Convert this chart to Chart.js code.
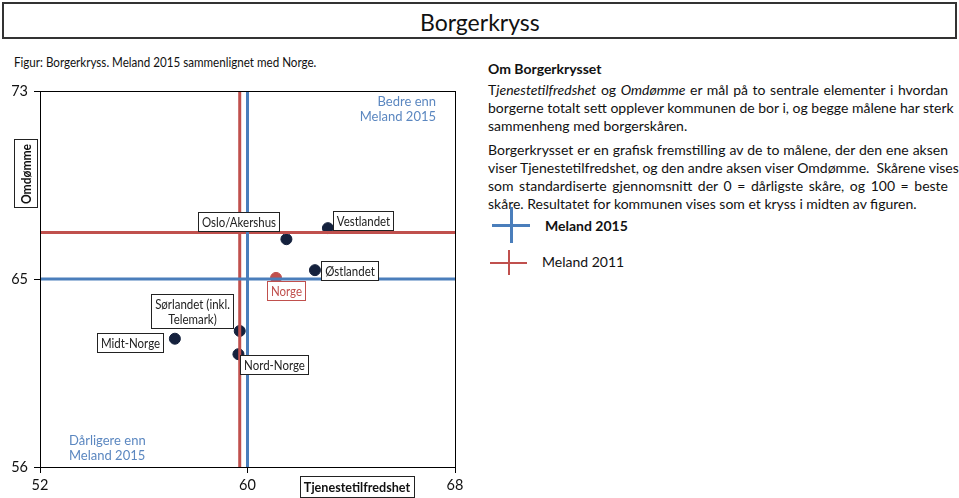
<!DOCTYPE html>
<html>
<head>
<meta charset="utf-8">
<script src="https://cdn.jsdelivr.net/npm/chart.js@4"></script>
<style>
  body { margin: 0; width: 959px; height: 498px; position: relative; background: #fff; font-family: Lato, 'Open Sans', sans-serif; color: #111; overflow: hidden; }
  #title-box { position: absolute; left: 2px; top: 2px; width: 951px; height: 33px; border: 2px solid #333; }
  #title { position: absolute; left: 420px; top: 7px; font-size: 23px; line-height: 30px; }
  #caption { position: absolute; left: 14px; top: 53px; font-size: 13.5px; line-height: 18px; transform: scaleX(0.86); transform-origin: 0 0; white-space: nowrap; }
  #chart-wrap { position: absolute; left: 0; top: 0; width: 480px; height: 498px; }
  #info { position: absolute; left: 488px; top: 60px; width: 460px; font-size: 14px; line-height: 18px; }
  #info .head { font-weight: bold; margin-bottom: 3px; }
  #info .line { text-align: justify; text-align-last: justify; white-space: nowrap; }
  #info .last { text-align: left; text-align-last: left; }
  #info .gap { height: 6px; }
  .bar { position: absolute; }
  .legend-text { position: absolute; font-size: 14px; line-height: 18px; }
</style>
</head>
<body>
<div id="title-box"></div>
<div id="title">Borgerkryss</div>
<div id="caption">Figur: Borgerkryss. Meland 2015 sammenlignet med Norge.</div>
<div id="chart-wrap"><canvas id="chart"></canvas></div>

<div id="info">
  <div class="head">Om Borgerkrysset</div>
  <div class="line">T<i>jenestetilfredshet</i> og <i>Omdømme</i> er mål på to sentrale elementer i hvordan</div>
  <div class="line">borgerne totalt sett opplever kommunen de bor i, og begge målene har sterk</div>
  <div class="line last">sammenheng med borgerskåren.</div>
  <div class="gap"></div>
  <div class="line">Borgerkrysset er en grafisk fremstilling av de to målene, der den ene aksen</div>
  <div class="line">viser Tjenestetilfredshet, og den andre aksen viser Omdømme.&nbsp; Skårene vises</div>
  <div class="line">som standardiserte gjennomsnitt der 0 = dårligste skåre, og 100 = beste</div>
  <div class="line last">skåre. Resultatet for kommunen vises som et kryss i midten av figuren.</div>
</div>

<div class="bar" style="left:492px; top:224px; width:38px; height:3px; background:#4a7ebb;"></div>
<div class="bar" style="left:510px; top:207px; width:3px; height:36px; background:#4a7ebb;"></div>
<div class="legend-text" style="left:545px; top:217px; font-weight:bold;">Meland 2015</div>
<div class="bar" style="left:490px; top:262px; width:37px; height:2px; background:#c0504d;"></div>
<div class="bar" style="left:508px; top:250px; width:2px; height:25px; background:#c0504d;"></div>
<div class="legend-text" style="left:542px; top:253px;">Meland 2011</div>

<script>
/* data */
const X_TICK_VALUES = [52, 60, 68];
const X_TICK_LABELS = ['52', '60', '68'];
const Y_TICK_VALUES = [56, 64.5, 73];
const Y_TICK_LABELS = ['56', '65', '73'];

const MELAND_2015 = [60, 64.5];   // [tjenestetilfredshet, omdømme]
const MELAND_2011 = [59.7, 66.6];

const REGION_NAMES = [['Oslo/Akershus'], ['Vestlandet'], ['Østlandet'], ['Sørlandet (inkl.', 'Telemark)'], ['Midt-Norge'], ['Nord-Norge']];
const REGION_TJENESTE = [61.5, 63.1, 62.6, 59.7, 57.2, 59.65];
const REGION_OMDOMME = [66.3, 66.8, 64.9, 62.15, 61.8, 61.1];

const NORGE_NAME = ['Norge'];
const NORGE_TJENESTE = [61.1];
const NORGE_OMDOMME = [64.55];

/* styling */
const BLUE = '#4a7ebb';
const RED = '#c0504d';
const DOT = '#14213d';
const CORNER = '#5b87c0';
const FONT = 'Lato, "Open Sans", sans-serif';
const NARROW = 0.82;
// [anchor, dx, dy] of each label box relative to its point
const REGION_LABEL_PLACEMENT = [['right', -7, -18], ['left', 5, -8], ['left', 6, 0], ['right', -7, -20], ['right', -12, 4], ['left', 2, 10]];
const NORGE_LABEL_PLACEMENT = ['center', 10, 13];

/* utilities */
const crossLines = (values, color) => {
  const [x, y] = values;
  const xMin = X_TICK_VALUES[0];
  const xMax = X_TICK_VALUES[X_TICK_VALUES.length - 1];
  const yMin = Y_TICK_VALUES[0];
  const yMax = Y_TICK_VALUES[Y_TICK_VALUES.length - 1];

  return [
    { type: 'line', data: [{ x: x, y: yMin }, { x: x, y: yMax }], borderColor: color, borderWidth: 3, pointRadius: 0 },
    { type: 'line', data: [{ x: xMin, y: y }, { x: xMax, y: y }], borderColor: color, borderWidth: 3, pointRadius: 0 },
  ];
};

const drawBox = (ctx, lines, px, py, placement, textColor, borderColor) => {
  const [anchor, dx, dy] = placement;
  ctx.font = '14px ' + FONT;
  const lineHeight = 15;
  const textWidth = Math.max(...lines.map((line) => ctx.measureText(line).width)) * NARROW;
  const width = Math.round(textWidth + 7);
  const height = lines.length * lineHeight + 4;

  let left = px + dx - width / 2;
  if (anchor === 'left') left = px + dx;
  if (anchor === 'right') left = px + dx - width;
  left = Math.round(left) + 0.5;
  const top = Math.round(py + dy - height / 2) + 0.5;
  const cx = left + width / 2;

  ctx.fillStyle = '#fff';
  ctx.fillRect(left, top, width, height);
  ctx.strokeStyle = borderColor;
  ctx.lineWidth = 1;
  ctx.strokeRect(left, top, width, height);
  ctx.fillStyle = textColor;
  ctx.textAlign = 'center';
  ctx.textBaseline = 'middle';
  lines.forEach((line, index) => {
    const w = ctx.measureText(line).width * NARROW;
    ctx.fillText(line, cx, top + 2 + lineHeight * (index + 0.5) + 0.5, w);
  });
};

const decorations = {
  id: 'decorations',
  afterDatasetsDraw(chart) {
    const { ctx, chartArea, scales } = chart;
    ctx.save();

    ctx.strokeStyle = '#000';
    ctx.lineWidth = 1;
    ctx.strokeRect(chartArea.left + 0.5, chartArea.top + 0.5, chartArea.right - chartArea.left, chartArea.bottom - chartArea.top);

    REGION_NAMES.forEach((name, index) => {
      const px = scales.x.getPixelForValue(REGION_TJENESTE[index]);
      const py = scales.y.getPixelForValue(REGION_OMDOMME[index]);
      drawBox(ctx, name, px, py, REGION_LABEL_PLACEMENT[index], '#222', '#222');
    });

    const nx = scales.x.getPixelForValue(NORGE_TJENESTE[0]);
    const ny = scales.y.getPixelForValue(NORGE_OMDOMME[0]);
    drawBox(ctx, NORGE_NAME, nx, ny, NORGE_LABEL_PLACEMENT, RED, RED);

    ctx.font = '13px ' + FONT;
    ctx.fillStyle = CORNER;
    ctx.textBaseline = 'middle';
    ctx.textAlign = 'right';
    ctx.fillText('Bedre enn', chartArea.right - 19, chartArea.top + 11);
    ctx.fillText('Meland 2015', chartArea.right - 19, chartArea.top + 26);
    ctx.textAlign = 'left';
    ctx.fillText('Dårligere enn', chartArea.left + 29, chartArea.bottom - 26);
    ctx.fillText('Meland 2015', chartArea.left + 29, chartArea.bottom - 11);

    ctx.font = 'bold 14px ' + FONT;
    ctx.fillStyle = '#111';
    ctx.textAlign = 'center';
    ctx.strokeStyle = '#222';
    const xTitle = 'Tjenestetilfredshet';
    const xTitleText = ctx.measureText(xTitle).width * 0.9;
    const xTitleWidth = Math.round(xTitleText + 8);
    ctx.strokeRect(Math.round(357 - xTitleWidth / 2) + 0.5, 476.5, xTitleWidth, 21);
    ctx.fillText(xTitle, 357, 487, xTitleText);

    ctx.translate(26, 174);
    ctx.rotate(-Math.PI / 2);
    const yTitle = 'Omdømme';
    const yTitleText = ctx.measureText(yTitle).width * 0.86;
    const yTitleWidth = Math.round(yTitleText + 8);
    ctx.strokeRect(Math.round(-yTitleWidth / 2) + 0.5, -11.5, yTitleWidth, 23);
    ctx.fillText(yTitle, 0, 0, yTitleText);

    ctx.restore();
  },
};

const createCrossChart = (selector) => {
  const element = document.querySelector(selector);

  return new Chart(element, {
    type: 'scatter',
    data: {
      datasets: [
        ...crossLines(MELAND_2015, BLUE),
        ...crossLines(MELAND_2011, RED),
        {
          label: 'Regioner',
          data: REGION_TJENESTE.map((x, index) => ({ x: x, y: REGION_OMDOMME[index] })),
          backgroundColor: DOT,
          borderColor: DOT,
          pointRadius: 5.5,
        },
        {
          label: 'Norge',
          data: NORGE_TJENESTE.map((x, index) => ({ x: x, y: NORGE_OMDOMME[index] })),
          backgroundColor: RED,
          borderColor: RED,
          pointRadius: 5.5,
        },
      ],
    },
    options: {
      responsive: true,
      maintainAspectRatio: false,
      animation: false,
      layout: { padding: { top: 91, right: 25, left: 0, bottom: 0 } },
      plugins: { legend: { display: false }, tooltip: { enabled: false } },
      scales: {
        x: {
          type: 'linear',
          min: X_TICK_VALUES[0],
          max: X_TICK_VALUES[X_TICK_VALUES.length - 1],
          afterBuildTicks: (scale) => { scale.ticks = X_TICK_VALUES.map((value) => ({ value: value })); },
          afterFit: (scale) => { scale.height = 31; },
          grid: { display: true, drawOnChartArea: false, drawTicks: true, tickLength: 6, color: '#000' },
          border: { display: true, color: '#000' },
          ticks: {
            color: '#111',
            padding: 4,
            maxRotation: 0,
            font: { family: FONT, size: 14.5 },
            callback: (value) => X_TICK_LABELS[X_TICK_VALUES.indexOf(value)],
          },
        },
        y: {
          type: 'linear',
          min: Y_TICK_VALUES[0],
          max: Y_TICK_VALUES[Y_TICK_VALUES.length - 1],
          afterBuildTicks: (scale) => { scale.ticks = Y_TICK_VALUES.map((value) => ({ value: value })); },
          afterFit: (scale) => { scale.width = 40; },
          grid: { display: true, drawOnChartArea: false, drawTicks: true, tickLength: 6, color: '#000' },
          border: { display: true, color: '#000' },
          ticks: {
            color: '#111',
            padding: 6,
            font: { family: FONT, size: 14.5 },
            callback: (value) => Y_TICK_LABELS[Y_TICK_VALUES.indexOf(value)],
          },
        },
      },
    },
    plugins: [decorations],
  });
};

document.addEventListener('DOMContentLoaded', () => {
  createCrossChart('#chart');
});
</script>
</body>
</html>
